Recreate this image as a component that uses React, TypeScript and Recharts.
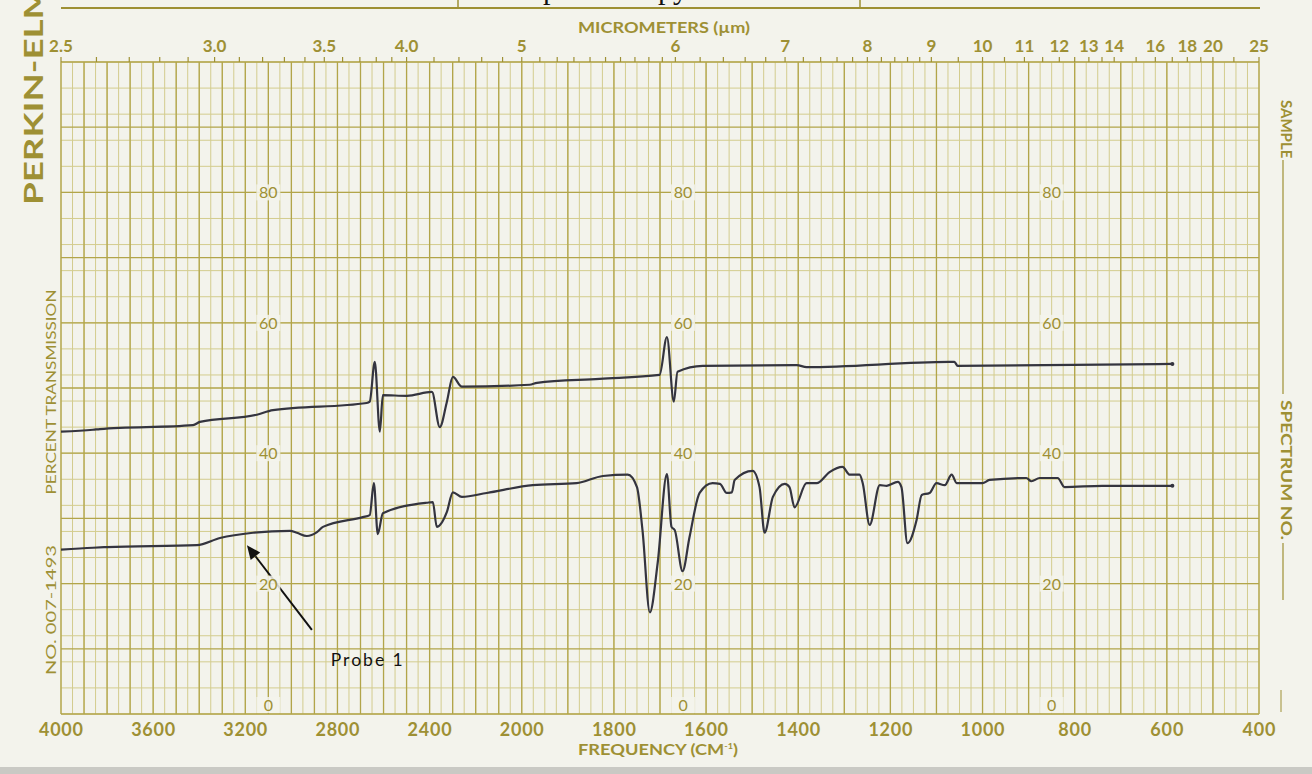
import React from 'react';
import { LineChart, Line, XAxis, YAxis, CartesianGrid, ReferenceDot, ReferenceLine } from 'recharts';

// trace: frequency (cm-1) / percent transmission
const upperFreq = [4000, 3861, 3831, 3427, 3397, 3150, 3080, 2673, 2660, 2638, 2616, 2603, 2499, 2390, 2356, 2325, 2299, 2260, 1983, 1967, 1831, 1701, 1685, 1670, 1662, 1607, 1403, 1382, 1072, 1061, 1054, 588];
const upperT = [43.3, 43.6, 43.7, 44.3, 44.8, 45.9, 46.6, 47.7, 47.9, 54.0, 43.3, 48.9, 48.8, 49.4, 44.0, 47.9, 51.7, 50.2, 50.5, 50.8, 51.4, 52.0, 57.8, 47.9, 52.5, 53.4, 53.5, 53.2, 54.0, 54.0, 53.4, 53.7];

const lowerFreq = [4000, 3861, 3800, 3410, 3310, 3167, 3006, 2976, 2933, 2889, 2863, 2690, 2660, 2642, 2625, 2603, 2412, 2386, 2369, 2325, 2299, 2260, 2152, 1976, 1881, 1824, 1770, 1750, 1738, 1722, 1705, 1685, 1675, 1668, 1651, 1636, 1614, 1586, 1570, 1555, 1544, 1538, 1499, 1484, 1473, 1455, 1429, 1419, 1408, 1382, 1360, 1332, 1304, 1288, 1267, 1260, 1245, 1223, 1208, 1184, 1176, 1163, 1143, 1132, 1115, 1100, 1082, 1067, 1056, 1000, 985, 905, 894, 876, 837, 822, 740, 588];
const lowerT = [25.2, 25.5, 25.6, 25.9, 27.0, 27.8, 28.1, 27.8, 27.3, 27.9, 28.7, 30.2, 30.5, 35.4, 27.6, 30.8, 32.4, 32.5, 28.7, 31.0, 34.0, 33.3, 33.9, 35.1, 35.4, 36.5, 36.7, 34.8, 28.2, 15.6, 23.2, 36.8, 28.7, 28.2, 21.9, 27.1, 33.9, 35.4, 35.3, 33.9, 34.0, 35.9, 37.3, 34.8, 27.8, 33.3, 35.3, 34.8, 31.7, 35.4, 35.4, 37.1, 37.9, 36.7, 36.7, 35.4, 29.0, 35.1, 35.0, 35.6, 34.8, 26.2, 29.8, 33.6, 33.9, 35.4, 35.1, 36.7, 35.4, 35.4, 35.9, 36.2, 35.7, 36.2, 36.2, 34.8, 35.0, 35.0];

const freqTicks = [4000, 3600, 3200, 2800, 2400, 2000, 1800, 1600, 1400, 1200, 1000, 800, 600, 400];
const micronLabels = ['2.5', '3.0', '3.5', '4.0', '5', '6', '7', '8', '9', '10', '11', '12', '13', '14', '16', '18', '20', '25'];
const micronMinor = [2.6, 2.7, 2.8, 2.9, 3.1, 3.2, 3.3, 3.4, 3.6, 3.7, 3.8, 3.9, 4.2, 4.4, 4.6, 4.8, 5.1, 5.2, 5.3, 5.4, 5.5, 5.6, 5.7, 5.8, 5.9, 6.2, 6.4, 6.6, 6.8, 7.2, 7.4, 7.6, 7.8, 8.2, 8.4, 8.6, 8.8, 9.5, 10.5, 11.5, 12.5, 13.5, 15, 17, 19, 22];
const percentLabels = [0, 20, 40, 60, 80];
const percentLabelFreqs = [3100, 1650, 850];

const probeText = 'Probe 1';
const probeTail = { f: 2911, t: 12.9 };
const probeTip = { f: 3193, t: 25.9 };
const probeTextAt = { f: 2829, t: 8.3 };

const OLIVE = '#9e9034';
const GRID_MINOR = '#d3cc8e';
const GRID_MAJOR = '#b2a54a';
const PAPER = '#f3f3ec';
const INK = '#34343f';
const FONT = 'Lato, "Open Sans", sans-serif';

// chart paper changes scale at 2000 cm-1 (twice as wide below it)
const toU = (f: number) => (f >= 2000 ? (4000 - f) / 2 : 1000 + (2000 - f));
const uToF = (u: number) => (u <= 1000 ? 4000 - 2 * u : 2000 - (u - 1000));

const upperData = upperFreq.map((f, i) => ({ u: toU(f), t: upperT[i] }));
const lowerData = lowerFreq.map((f, i) => ({ u: toU(f), t: lowerT[i] }));

const topTicks = [
  ...micronLabels.map((s) => ({ u: toU(10000 / parseFloat(s)), label: s })),
  ...micronMinor.map((m) => ({ u: toU(10000 / m), label: '' })),
].sort((a, b) => a.u - b.u);
const topLabelByKey = new Map(topTicks.map((t) => [t.u.toFixed(3), t.label]));

const gridMinorU: number[] = [];
for (let f = 4000; f > 2000; f -= 50) gridMinorU.push(toU(f));
for (let f = 2000; f >= 400; f -= 25) gridMinorU.push(toU(f));
const gridMajorU: number[] = [];
for (let f = 4000; f >= 400; f -= 100) gridMajorU.push(toU(f));
const gridMinorT = Array.from({ length: 101 }, (_, i) => i);
const gridMajorT = Array.from({ length: 11 }, (_, i) => i * 10);

const BottomTick = (p: any) => {
  const s = String(Math.round(uToF(p.payload.value)));
  return (
    <text x={p.x} y={p.y + 20} textAnchor="middle" fill={OLIVE} fontSize={18} fontWeight={700}
      fontFamily={FONT} textLength={s.length * 11} lengthAdjust="spacing">{s}</text>
  );
};

const TopTick = (p: any) => {
  const label = topLabelByKey.get(Number(p.payload.value).toFixed(3));
  if (!label) return <g />;
  return (
    <text x={p.x} y={p.y - 3} textAnchor="middle" fill={OLIVE} fontSize={17} fontWeight={700}
      fontFamily={FONT}>{label}</text>
  );
};

const pctLabel = (v: number) => (p: any) => {
  const cy = v === 0 ? p.cy - 9 : p.cy;
  return (
    <g>
      <rect x={p.cx - 12} y={cy - 8} width={24} height={16} fill={PAPER} opacity={0.85} />
      <text x={p.cx} y={cy + 6} textAnchor="middle" fill={OLIVE} fontSize={16} fontWeight={400}
        fontFamily={FONT}>{v}</text>
    </g>
  );
};

const ArrowShape = (p: any) => {
  const { x1, y1, x2, y2 } = p;
  const a = Math.atan2(y2 - y1, x2 - x1);
  const L = 14, W = 6;
  const bx = x2 - L * Math.cos(a), by = y2 - L * Math.sin(a);
  const px = -Math.sin(a) * W, py = Math.cos(a) * W;
  return (
    <g>
      <line x1={x1} y1={y1} x2={bx} y2={by} stroke="#111" strokeWidth={2} />
      <polygon points={`${x2},${y2} ${bx + px},${by + py} ${bx - px},${by - py}`} fill="#111" />
    </g>
  );
};

const lastUpper = upperData[upperData.length - 1];
const lastLower = lowerData[lowerData.length - 1];

export default function App() {
  return (
    <div style={{ position: 'absolute', left: 0, top: 0, width: 1312, height: 774, background: PAPER, overflow: 'hidden' }}>
      <LineChart width={1312} height={774} data={upperData} margin={{ top: 32, right: 53, bottom: 30, left: 61 }}>
        <XAxis xAxisId="f" dataKey="u" type="number" domain={[0, 2600]} allowDataOverflow
          ticks={freqTicks.map(toU)} interval={0} height={30} tickSize={0}
          axisLine={false} tickLine={false} tick={BottomTick} />
        <XAxis xAxisId="um" dataKey="u" orientation="top" type="number" domain={[0, 2600]} allowDataOverflow
          ticks={topTicks.map((t) => t.u)} interval={0} height={30} tickSize={5}
          axisLine={false} tickLine={{ stroke: OLIVE, strokeWidth: 1.2 }} tick={TopTick} />
        <YAxis yAxisId="p" type="number" domain={[0, 100]} allowDataOverflow hide />

        <CartesianGrid xAxisId="f" yAxisId="p" verticalValues={gridMinorU} horizontalValues={gridMinorT}
          stroke={GRID_MINOR} strokeWidth={1} />
        <CartesianGrid xAxisId="f" yAxisId="p" verticalValues={gridMajorU} horizontalValues={gridMajorT}
          stroke={GRID_MAJOR} strokeWidth={1.3} />

        {percentLabelFreqs.map((f) =>
          percentLabels.map((v) => (
            <ReferenceDot key={`${f}-${v}`} xAxisId="f" yAxisId="p" x={toU(f)} y={v} r={0}
              shape={pctLabel(v)} />
          ))
        )}

        <Line data={upperData} dataKey="t" xAxisId="f" yAxisId="p" type="monotone" stroke={INK}
          strokeWidth={2.2} dot={false} isAnimationActive={false} />
        <Line data={lowerData} dataKey="t" xAxisId="f" yAxisId="p" type="monotone" stroke={INK}
          strokeWidth={2.2} dot={false} isAnimationActive={false} />
        <Line data={upperData} dataKey="t" xAxisId="um" yAxisId="p" stroke="none" dot={false}
          legendType="none" isAnimationActive={false} />
        <ReferenceDot xAxisId="f" yAxisId="p" x={lastUpper.u} y={lastUpper.t} r={2} fill={INK} stroke="none" />
        <ReferenceDot xAxisId="f" yAxisId="p" x={lastLower.u} y={lastLower.t} r={2} fill={INK} stroke="none" />

        <ReferenceLine xAxisId="f" yAxisId="p"
          segment={[{ x: toU(probeTail.f), y: probeTail.t }, { x: toU(probeTip.f), y: probeTip.t }]}
          shape={ArrowShape} />
        <ReferenceDot xAxisId="f" yAxisId="p" x={toU(probeTextAt.f)} y={probeTextAt.t} r={0}
          shape={(p: any) => (
            <text x={p.cx} y={p.cy + 6} fill="#111" fontSize={17.5} fontFamily={FONT}
              textLength={72} lengthAdjust="spacing">{probeText}</text>
          )} />
      </LineChart>

      <svg width={1312} height={774} style={{ position: 'absolute', left: 0, top: 0, pointerEvents: 'none' }}>
        {/* caption above the scan, cut off by the page edge */}
        <text x={688} y={-1} textAnchor="end" fill="#111" fontSize={30}
          fontFamily='"Liberation Serif", serif'>spectroscopy</text>
        <line x1={61} y1={8} x2={1260} y2={8} stroke={OLIVE} strokeWidth={2} />
        <line x1={458} y1={0} x2={458} y2={8} stroke={OLIVE} strokeWidth={1.5} />
        <line x1={860} y1={0} x2={860} y2={8} stroke={OLIVE} strokeWidth={1.5} />
        <text transform="translate(43,205) rotate(-90)" fill={OLIVE} fontSize={26} fontWeight={700}
          fontFamily={FONT} textLength={265} lengthAdjust="spacingAndGlyphs">PERKIN-ELMER</text>
        <text transform="translate(56,392) rotate(-90)" textAnchor="middle" fill={OLIVE} fontSize={14}
          fontWeight={400} fontFamily={FONT} textLength={205} lengthAdjust="spacingAndGlyphs">PERCENT TRANSMISSION</text>
        <text transform="translate(56,610) rotate(-90)" textAnchor="middle" fill={OLIVE} fontSize={14}
          fontWeight={400} fontFamily={FONT} textLength={130} lengthAdjust="spacingAndGlyphs">NO. 007-1493</text>
        <text transform="translate(1281,100) rotate(90)" fill={OLIVE} fontSize={15} fontWeight={700}
          fontFamily={FONT}>SAMPLE</text>
        <line x1={1283} y1={160} x2={1283} y2={394} stroke={OLIVE} strokeWidth={1.2} />
        <text transform="translate(1281,400) rotate(90)" fill={OLIVE} fontSize={15} fontWeight={700}
          fontFamily={FONT} textLength={140} lengthAdjust="spacingAndGlyphs">SPECTRUM NO.</text>
        <line x1={1283} y1={543} x2={1283} y2={600} stroke={OLIVE} strokeWidth={1.2} />
        <line x1={1281} y1={690} x2={1281} y2={712} stroke={OLIVE} strokeWidth={1} />
        <text x={664} y={33} textAnchor="middle" fill={OLIVE} fontSize={15} fontWeight={700}
          fontFamily={FONT} textLength={172} lengthAdjust="spacingAndGlyphs">MICROMETERS (µm)</text>
        <text x={658} y={755} textAnchor="middle" fill={OLIVE} fontSize={16} fontWeight={700}
          fontFamily={FONT} textLength={160} lengthAdjust="spacingAndGlyphs">
          FREQUENCY (CM<tspan dy={-6} fontSize={8}>-1</tspan><tspan dy={6}>)</tspan>
        </text>
        <rect x={0} y={767} width={1312} height={7} fill="#c9c9c4" />
      </svg>
    </div>
  );
}
